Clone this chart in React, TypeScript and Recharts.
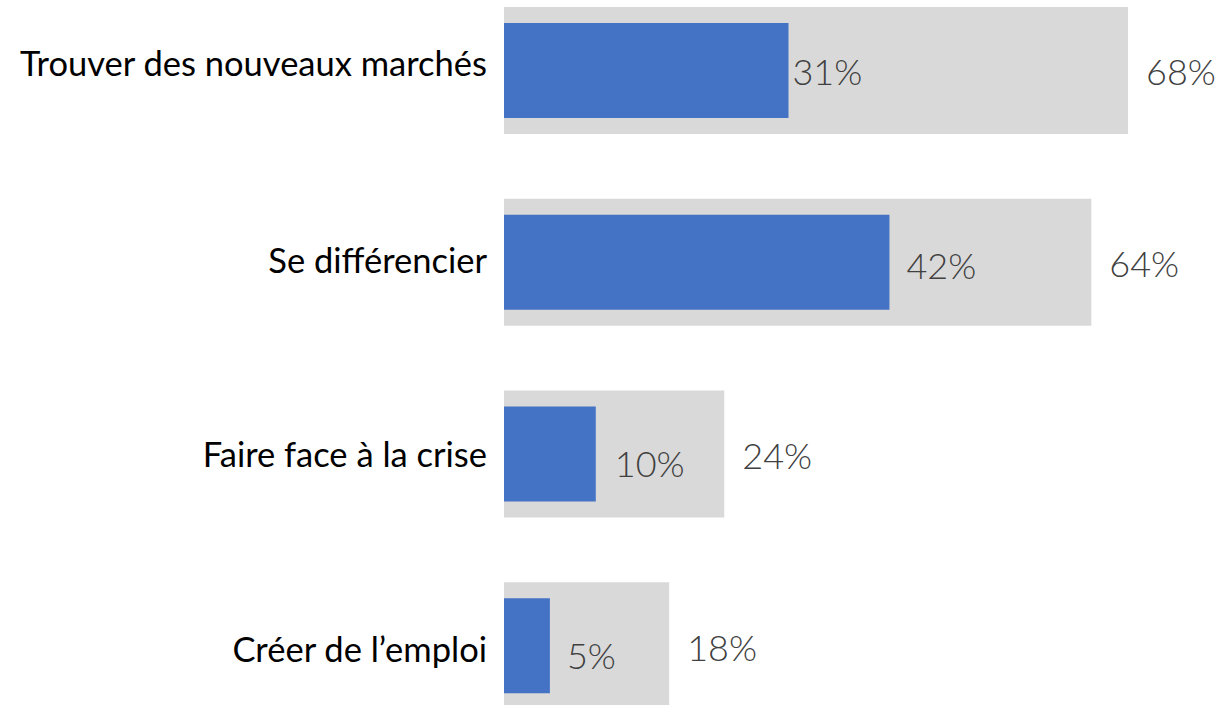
import React from 'react';
import { BarChart, Bar, XAxis, YAxis, LabelList } from 'recharts';

const categories = [
  'Trouver des nouveaux marchés',
  'Se différencier',
  'Faire face à la crise',
  'Créer de l’emploi',
];
const totalValues = [68, 64, 24, 18];
const shareValues = [31, 42, 10, 5];

const data = categories.map((name, i) => ({
  name,
  total: totalValues[i],
  share: shareValues[i],
}));

// label nudges (layout only)
const shareLabelDx = [4, 17, 19, 17];
const shareLabelDy = [2, 4, 10, 10];
const totalLabelDx = 18;
const totalLabelDy = 2;
const categoryLabelDy = [5, 10, 13, 16];

const VALUE_FONT = 'Lato, "Open Sans", sans-serif';
const VALUE_SIZE = 36;

const makeLabel = (dxFn: (i: number) => number, dyFn: (i: number) => number) => (props: any) => {
  const { x, y, width, height, value, index } = props;
  const tx = Number(x) + Number(width) + dxFn(index);
  const ty = Number(y) + Number(height) / 2 + dyFn(index) + VALUE_SIZE * 0.36;
  return (
    <text
      x={tx}
      y={ty}
      textAnchor="start"
      fill="#404040"
      fontFamily={VALUE_FONT}
      fontWeight={300}
      fontSize={VALUE_SIZE}
    >
      {`${value}%`}
    </text>
  );
};

const CategoryTick = (props: any) => {
  const { x, y, payload, index } = props;
  const i = typeof index === 'number' ? index : categories.indexOf(payload.value);
  return (
    <text
      x={x}
      y={Number(y) + (categoryLabelDy[i] ?? 11)}
      textAnchor="end"
      fill="#000000"
      fontFamily='Lato, "Open Sans", sans-serif'
      fontSize={34.5}
    >
      {payload.value}
    </text>
  );
};

export default function App() {
  return (
    <div
      style={{
        position: 'fixed',
        left: 0,
        top: 0,
        width: 1218,
        height: 705,
        overflow: 'hidden',
        background: '#ffffff',
      }}
    >
      <div style={{ position: 'absolute', left: 0, top: -25 }}>
        <BarChart
          width={1218}
          height={767}
          layout="vertical"
          data={data}
          margin={{ top: 0, right: 0, bottom: 0, left: 0 }}
        >
          <XAxis type="number" domain={[0, 77.8]} hide />
          <YAxis
            yAxisId="back"
            type="category"
            dataKey="name"
            width={504}
            axisLine={false}
            tickLine={false}
            tickSize={0}
            tickMargin={17}
            tick={<CategoryTick />}
            interval={0}
          />
          <YAxis yAxisId="front" type="category" dataKey="name" hide />
          <Bar
            yAxisId="back"
            dataKey="total"
            fill="#D9D9D9"
            barSize={127}
            isAnimationActive={false}
          >
            <LabelList
              dataKey="total"
              content={makeLabel(() => totalLabelDx, () => totalLabelDy)}
            />
          </Bar>
          <Bar
            yAxisId="front"
            dataKey="share"
            fill="#4472C4"
            barSize={95}
            isAnimationActive={false}
          >
            <LabelList
              dataKey="share"
              content={makeLabel((i) => shareLabelDx[i], (i) => shareLabelDy[i])}
            />
          </Bar>
        </BarChart>
      </div>
    </div>
  );
}
